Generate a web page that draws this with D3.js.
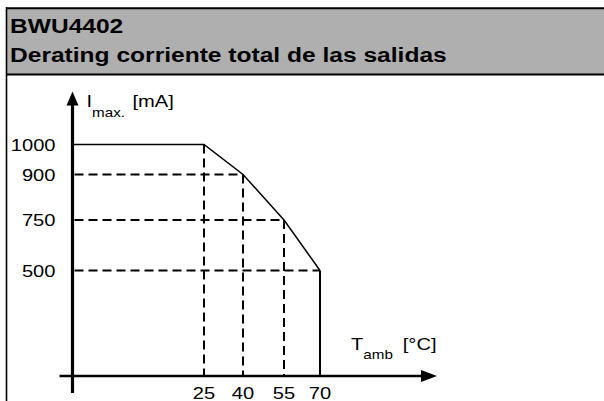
<!DOCTYPE html>
<html>
<head>
<script src="https://d3js.org/d3.v7.min.js"></script>
<style>
  body { margin: 0; background: #fff; }
  text { font-family: "Liberation Sans", Arial, sans-serif; fill: #000; }
</style>
</head>
<body>
<div id="chart"></div>
<script>
// derating curve: total output current vs ambient temperature
var tempTicks = [25, 40, 55, 70];
var currentTicks = [1000, 900, 750, 500];
var deratingTemp = [0, 25, 40, 55, 70, 70];
var deratingCurrent = [1000, 1000, 900, 750, 500, 0];
var titleLines = ["BWU4402", "Derating corriente total de las salidas"];

var w = 604, h = 401;
var sx = 1.17; // source drawing is stretched horizontally

var svg = d3.select("#chart").append("svg")
    .attr("width", w)
    .attr("height", h);

function place(sel, fx, fy) {
    return sel.attr("transform", function(d, i) {
        var px = typeof fx === "function" ? fx(d, i) : fx;
        var py = typeof fy === "function" ? fy(d, i) : fy;
        return "translate(" + px + "," + py + ") scale(" + sx + ",1)";
    });
}

// schematic drawing: axes are not to scale, so the scales are piecewise
var x = d3.scaleLinear()
    .domain([0, 25, 40, 55, 70])
    .range([72.5, 204, 243, 284, 320]);
var y = d3.scaleLinear()
    .domain([0, 500, 750, 900, 1000])
    .range([376, 270.5, 220, 174.5, 144.5]);

// header box
svg.append("rect")
    .attr("x", 7).attr("y", 8.5)
    .attr("width", w).attr("height", 66)
    .attr("fill", "#afafaf");
svg.append("line")
    .attr("x1", 6).attr("x2", w)
    .attr("y1", 8.3).attr("y2", 8.3)
    .attr("stroke", "#000").attr("stroke-width", 2);
svg.append("line")
    .attr("x1", 6.5).attr("x2", 6.5)
    .attr("y1", 7.3).attr("y2", h)
    .attr("stroke", "#000").attr("stroke-width", 1.6);
svg.append("line")
    .attr("x1", 6).attr("x2", w)
    .attr("y1", 74.5).attr("y2", 74.5)
    .attr("stroke", "#000").attr("stroke-width", 2);

place(svg.selectAll(".title")
    .data(titleLines)
    .enter().append("text")
    .attr("class", "title")
    .attr("font-size", 21)
    .attr("font-weight", "bold")
    .text(function(d) { return d; }), 10, function(d, i) { return 33 + i * 28.7; });

// guide lines (dashed)
var pts = deratingTemp.map(function(t, i) { return [t, deratingCurrent[i]]; });
var guides = pts.filter(function(d) { return d[0] > 0 && d[1] > 0 && d[1] < 1000; });

svg.selectAll(".hguide")
    .data(guides)
    .enter().append("line")
    .attr("class", "hguide")
    .attr("x1", x(0) + 2).attr("x2", function(d) { return x(d[0]); })
    .attr("y1", function(d) { return y(d[1]); })
    .attr("y2", function(d) { return y(d[1]); })
    .attr("stroke", "#000").attr("stroke-width", 2)
    .attr("stroke-dasharray", "9,5");

svg.selectAll(".vguide")
    .data(pts.filter(function(d) { return d[0] > 0 && d[0] < 70; }))
    .enter().append("line")
    .attr("class", "vguide")
    .attr("x1", function(d) { return x(d[0]); })
    .attr("x2", function(d) { return x(d[0]); })
    .attr("y1", function(d) { return y(d[1]); })
    .attr("y2", y(0))
    .attr("stroke", "#000").attr("stroke-width", 2)
    .attr("stroke-dasharray", "9,5");

// derating curve
var line = d3.line()
    .x(function(d) { return x(d[0]); })
    .y(function(d) { return y(d[1]); });
svg.append("path")
    .datum(pts.slice(0, 5))
    .attr("d", line)
    .attr("fill", "none")
    .attr("stroke", "#000")
    .attr("stroke-width", 1.5);
svg.append("path")
    .datum(pts.slice(4))
    .attr("d", line)
    .attr("fill", "none")
    .attr("stroke", "#000")
    .attr("stroke-width", 2);

// axes with arrow heads
var xEnd = x(70) + 117, yEnd = y(1000) - 53;
svg.append("line")
    .attr("x1", x(0) - 13).attr("x2", xEnd - 10)
    .attr("y1", y(0)).attr("y2", y(0))
    .attr("stroke", "#000").attr("stroke-width", 2.5);
svg.append("line")
    .attr("x1", x(0)).attr("x2", x(0))
    .attr("y1", y(0) + 17).attr("y2", yEnd + 10)
    .attr("stroke", "#000").attr("stroke-width", 3.2);
svg.append("path")
    .attr("d", "M" + xEnd + "," + y(0) + "L" + (xEnd - 16) + "," + (y(0) - 6) + "L" + (xEnd - 16) + "," + (y(0) + 6) + "Z")
    .attr("fill", "#000");
svg.append("path")
    .attr("d", "M" + x(0) + "," + yEnd + "L" + (x(0) - 6) + "," + (yEnd + 14) + "L" + (x(0) + 6) + "," + (yEnd + 14) + "Z")
    .attr("fill", "#000");

// tick labels
place(svg.selectAll(".ylab")
    .data(currentTicks)
    .enter().append("text")
    .attr("class", "ylab")
    .attr("text-anchor", "end")
    .attr("font-size", 17.2)
    .text(function(d) { return d; }), 55.5, function(d) { return y(d) + 6.2; });

place(svg.selectAll(".xlab")
    .data(tempTicks)
    .enter().append("text")
    .attr("class", "xlab")
    .attr("text-anchor", "middle")
    .attr("font-size", 17.2)
    .text(function(d) { return d; }), function(d) { return x(d); }, 398.5);

// axis titles
var yt = place(svg.append("text").attr("font-size", 17.2), x(0) + 14, 106.5);
yt.append("tspan").text("I");
yt.append("tspan").attr("dy", 10).attr("font-size", 13).text("max.");
yt.append("tspan").attr("dy", -10).attr("dx", 6.4).text("[mA]");

var xt = place(svg.append("text").attr("font-size", 17.2), 351, 350);
xt.append("tspan").text("T");
xt.append("tspan").attr("dy", 9).attr("font-size", 13).text("amb");
xt.append("tspan").attr("dy", -9).attr("dx", 8.5).text("[°C]");
</script>
</body>
</html>
